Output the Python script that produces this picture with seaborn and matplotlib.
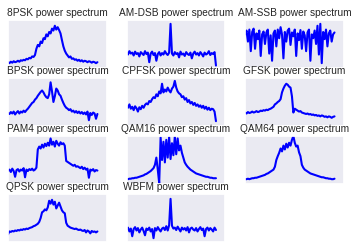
import numpy as np
import pandas as pd
import matplotlib
matplotlib.use("Agg")
import matplotlib.pyplot as plt
import seaborn as sns

titles = ["8PSK", "AM-DSB", "AM-SSB", "BPSK", "CPFSK", "GFSK",
          "PAM4", "QAM16", "QAM64", "QPSK", "WBFM"]

psk8 = [0.12,0.10,0.13,0.11,0.14,0.12,0.13,0.15,0.13,0.16,0.15,
        0.17,0.16,0.19,0.18,0.21,0.20,0.24,0.23,0.27,
        0.40,0.48,0.45,0.55,0.52,0.62,
        0.60,0.70,0.66,0.75,0.72,
        0.82,0.78,0.88,0.80,0.85,0.79,0.72,
        0.58,0.45,0.36,0.30,
        0.26,0.22,0.24,0.19,0.20,0.17,
        0.18,0.15,0.17,0.14,0.16,0.13,0.15,0.14,0.12,0.14,0.13,0.11,0.13,0.12,0.10,0.12]
am_dsb = [0.33,0.28,0.35,0.30,0.32,0.26,0.34,0.29,0.31,0.24,0.33,0.30,0.27,0.35,0.29,0.32,
          0.12,0.30,0.34,0.27,0.31,0.15,0.29,0.33,0.26,0.31,0.28,0.35,0.30,0.27,0.32,0.92,
          0.30,0.26,0.33,0.29,0.31,0.22,0.34,0.28,0.30,0.25,0.33,0.29,0.27,0.32,0.20,0.30,
          0.34,0.28,0.31,0.26,0.33,0.29,0.24,0.32,0.28,0.30,0.35,0.27,0.31,0.29,0.33,0.05]
am_ssb = [0.70,0.78,0.55,0.80,0.35,0.75,0.82,0.40,0.72,0.60,0.78,0.25,0.70,0.76,0.50,0.74,
          0.80,0.30,0.68,0.15,0.72,0.78,0.45,0.80,0.62,0.85,0.70,0.20,0.75,0.55,0.78,0.82,
          0.48,0.74,0.66,0.80,0.25,0.72,0.58,0.79,0.40,0.76,0.68,0.35,0.74,0.80,0.15,0.70,
          0.62,0.78,0.50,0.88,0.28,0.92,0.10,0.75,0.60,0.80,0.45,0.72,0.78,0.55,0.70,0.74]
bpsk = [0.27,0.25,0.29,0.26,0.30,0.24,0.28,0.31,0.26,0.30,0.28,0.32,0.29,
        0.33,0.36,0.40,0.44,0.48,
        0.50,0.55,0.58,0.63,0.67,0.71,0.74,
        0.70,0.64,0.60,0.58,
        0.66,0.91,0.72,
        0.50,0.62,0.78,
        0.74,0.66,0.63,0.55,
        0.48,0.42,0.38,0.36,0.33,0.35,
        0.30,0.32,0.28,0.31,0.27,0.30,0.26,0.29,0.25,0.28,0.24,0.30,0.12,0.27,0.23,0.28,0.26,0.15,0.25]
cpfsk = [0.42,0.38,0.45,0.36,0.40,0.33,0.41,0.37,0.30,0.39,0.35,0.42,0.38,0.44,0.47,0.45,
         0.52,0.50,0.56,0.60,0.58,0.66,0.62,0.72,0.68,0.88,0.70,0.76,0.72,0.80,0.74,0.70,
         0.78,0.82,0.94,0.80,0.72,0.68,0.66,0.60,0.62,0.55,0.58,0.50,0.54,0.47,0.50,0.44,
         0.48,0.42,0.45,0.40,0.43,0.38,0.42,0.36,0.40,0.34,0.38,0.33,0.36,0.35,0.30,0.10]
gfsk = [0.28,0.26,0.29,0.27,0.28,0.30,0.28,0.29,0.31,0.29,0.30,0.32,0.31,0.33,0.32,
        0.34,0.33,0.35,0.36,0.38,0.40,
        0.45,0.47,0.50,0.52,0.56,
        0.70,0.78,0.84,0.88,0.86,
        0.82,0.80,0.62,0.28,
        0.36,0.34,0.32,0.30,0.31,0.28,
        0.27,0.26,0.25,0.26,0.24,0.25,0.23,0.24,0.22,0.23,0.21,0.22,0.20,0.22,0.21,0.19,
        0.20,0.18,0.20,0.19,0.17,0.19,0.20]
pam4 = [0.28,0.30,0.25,0.32,0.27,0.15,0.29,0.31,0.26,0.30,0.28,0.33,0.14,0.30,0.27,0.31,
        0.29,0.32,0.28,0.30,0.34,
        0.72,0.78,0.74,0.82,0.76,0.84,0.79,0.86,0.80,0.95,0.82,0.88,0.78,0.90,0.84,0.80,
        0.87,0.83,0.85,0.80,
        0.48,0.46,0.44,0.42,
        0.40,0.38,0.40,0.36,0.37,0.35,0.33,0.36,0.31,0.34,0.30,0.32,0.13,0.30,0.28,0.31,
        0.26,0.29,0.28]
qam16 = [0.10,0.10,0.11,0.11,0.12,0.12,0.13,0.13,0.14,0.15,0.16,0.17,0.18,
         0.20,0.21,0.23,0.25,0.27,0.30,0.33,
         0.40,0.55,0.30,
         0.02,
         0.97,0.50,0.88,0.45,0.92,0.55,0.98,0.52,0.85,0.60,0.99,0.62,0.95,0.70,0.80,0.65,0.55,
         0.45,0.40,0.36,0.33,0.30,0.28,0.26,0.24,0.22,0.21,0.20,0.19,0.18,0.17,0.16,0.15,
         0.15,0.14,0.13,0.13,0.12,0.12,0.12]
qam64 = [0.10,0.10,0.11,0.10,0.11,0.12,0.12,0.13,0.13,0.14,0.15,0.16,0.17,0.18,0.19,0.21,
         0.22,0.24,0.26,0.28,0.30,
         0.36,0.50,0.58,0.65,
         0.74,0.68,0.80,0.72,0.84,0.76,0.86,0.80,0.92,1.00,0.86,0.78,0.80,
         0.66,0.58,0.40,0.34,
         0.30,0.28,0.26,0.24,0.22,0.21,0.20,0.19,0.18,0.17,0.16,0.15,0.14,0.14,0.13,0.12,
         0.12,0.11,0.11,0.10,0.10,0.11]
qpsk = [0.16,0.22,0.21,0.23,0.22,0.24,0.23,0.25,0.24,0.26,0.25,0.27,0.26,0.28,0.27,0.29,0.30,
        0.31,0.33,0.34,0.36,0.38,0.42,
        0.50,0.62,0.64,0.68,
        0.66,0.72,0.86,0.80,0.88,0.78,0.84,0.70,0.76,0.82,0.74,0.66,0.62,0.60,
        0.40,0.34,0.32,0.30,0.29,0.28,0.27,0.28,0.26,0.25,0.26,0.24,0.23,0.25,0.20,0.24,
        0.22,0.18,0.23,0.21,0.22,0.20,0.22]
wbfm = [0.26,0.30,0.22,0.28,0.12,0.27,0.31,0.24,0.29,0.20,0.26,0.30,0.23,0.14,0.28,0.25,
        0.30,0.22,0.27,0.08,0.29,0.24,0.31,0.26,0.22,0.28,0.30,0.25,0.33,0.24,0.35,0.90,
        0.34,0.28,0.30,0.25,0.32,0.27,0.22,0.30,0.26,0.29,0.24,0.31,0.20,0.28,0.30,0.26,
        0.24,0.29,0.22,0.27,0.31,0.25,0.28,0.12,0.27,0.30,0.24,0.29,0.26,0.22,0.30,0.25]

series = [psk8, am_dsb, am_ssb, bpsk, cpfsk, gfsk, pam4, qam16, qam64, qpsk, wbfm]

sns.set_theme(style="darkgrid")
plt.rcParams['font.family'] = ['Liberation Sans', 'DejaVu Sans']

fig, axes = plt.subplots(4, 3, figsize=(3.56, 2.5), dpi=100)
fig.subplots_adjust(left=0.0225, right=0.966, top=0.92, bottom=0.032,
                    wspace=0.2, hspace=0.21)
for i, ax in enumerate(axes.flat):
    if i >= len(series):
        ax.set_visible(False)
        continue
    vals = series[i]
    df = pd.DataFrame({"f": np.arange(len(vals)), "p": vals})
    sns.lineplot(data=df, x="f", y="p", ax=ax, color="#0000FF", linewidth=1.5)
    ax.set_xlim(0, (len(vals) - 1) / 0.905)
    ax.set_ylim(0, 1)
    ax.set_xticks([])
    ax.set_yticks([])
    ax.set_xlabel("")
    ax.set_ylabel("")
    ax.set_title(titles[i] + " power spectrum", fontsize=7.3, pad=3, color="#262626")

fig.savefig("out.png", dpi=100)
